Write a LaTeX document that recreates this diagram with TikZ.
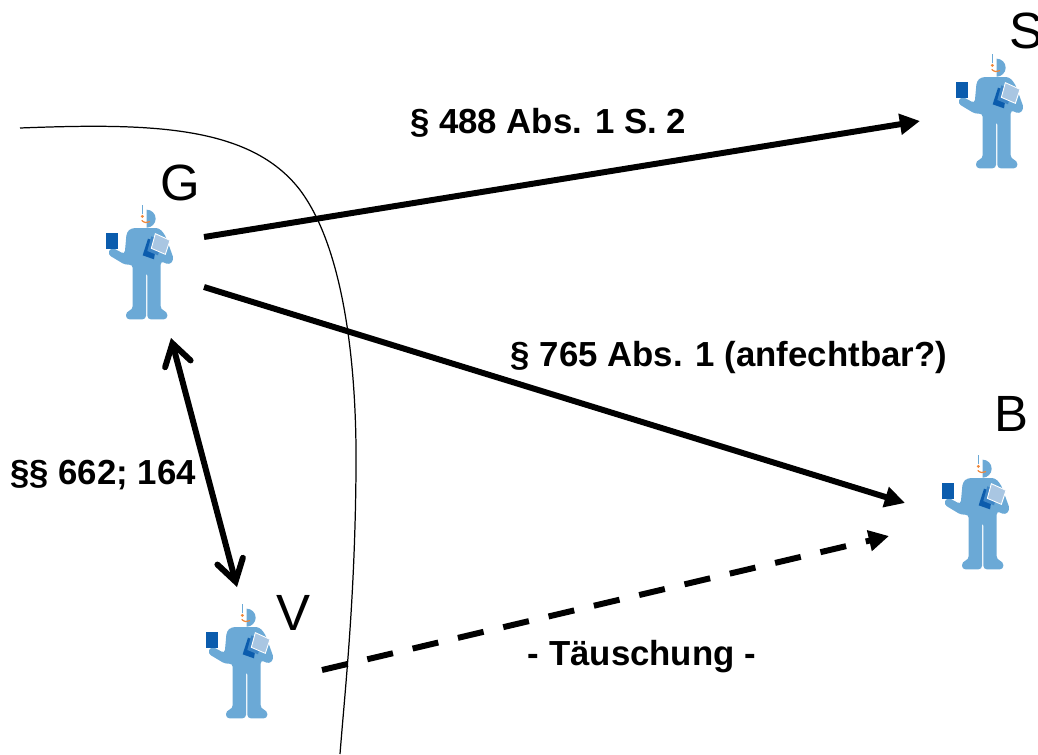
\documentclass[tikz,border=0pt]{standalone}
\usepackage{fontspec}
\setmainfont{Liberation Sans}
\usetikzlibrary{arrows.meta}

\definecolor{koerper}{HTML}{6BA9D6}
\definecolor{buch}{HTML}{0B5CAD}
\definecolor{buchmitte}{HTML}{3F86C6}
\definecolor{blatt}{HTML}{A9C6E2}
\definecolor{mikro}{HTML}{F0873A}

\tikzset{
  person/.style={minimum width=70,minimum height=115,inner sep=0pt,outer sep=0pt},
  rufname/.style={font=\fontsize{29}{31}\selectfont,inner sep=0pt},
  norm/.style={font=\fontsize{19.8}{22}\selectfont\bfseries,inner sep=0pt},
  pfeil/.style={line width=3.4pt,-{Triangle[length=11.5pt,width=11.5pt]}},
  doppel/.style={line width=3.4pt,{Straight Barb[line cap=round,line join=miter,length=12pt,width=15pt]}-{Straight Barb[line cap=round,line join=miter,length=12pt,width=15pt]}},
  figur/.pic={
    \begin{scope}[scale=1/3,shift={(-150,-215)}]
      %body
      \fill[koerper,rounded corners=2pt] (125,113) -- (208,113) -- (226,135) -- (252,208) -- (238,224) -- (212,212)
        -- (212,358) -- (232,364) -- (232,387) -- (172,387) -- (172,245) -- (168,245) -- (168,387) -- (108,387)
        -- (108,364) -- (128,358) -- (128,222) -- (106,224) -- (53,192) -- (64,170) -- (104,192) -- (110,125) -- cycle;
      %head
      \fill[koerper] (170,58) arc (-90:90:27) -- cycle;
      \draw[koerper,line width=0.8pt] (157,45) -- (157,72);
      \fill[mikro] (157,78) circle (5);
      \draw[mikro,line width=0.7pt] (155,90) .. controls (162,98) and (172,98) .. (180,94);
      %books
      \fill[buch] (49,128) rectangle (83,177);
      \fill[buch] (174,145) -- (200,155) -- (192,207) -- (158,195) -- cycle;
      \fill[buchmitte] (184,138) -- (215,150) -- (204,195) -- (172,182) -- cycle;
      \fill[blatt,draw=white,line width=0.5pt] (196,130) -- (240,150) -- (226,192) -- (184,174) -- cycle;
    \end{scope}
  }
}

\begin{document}
\begin{tikzpicture}[x=0.02cm,y=-0.02cm]

\useasboundingbox (0,0) rectangle (1038,754);
\clip (0,0) rectangle (1038,754);

%persons
\foreach \who/\px/\py in {G/140/262, S/990/111, B/976/512, V/240/661}{
  \node[person] (\who) at (\px,\py) {};
  \pic at (\who) {figur};
}

\node[rufname] (nameG) at (180,183) {G};
\node[rufname] (nameS) at (1026,31) {S};
\node[rufname] (nameB) at (1011,414) {B};
\node[rufname] (nameV) at (293,613) {V};

%border line
\draw[line width=0.7pt] (20,128) .. controls (150,123) and (250,125) .. (300,190)
  .. controls (345,250) and (357,370) .. (356,470)
  .. controls (355,600) and (345,690) .. (340,754);

%claims
\draw[pfeil] ([shift={(64,-25)}]G.center) -- ([shift={(-70,10)}]S.center);
\draw[pfeil] ([shift={(64,25)}]G.center) -- ([shift={(-71,-9)}]B.center);
\draw[doppel] ([shift={(31,76)}]G.center) -- ([shift={(-3,-74)}]V.center);
\draw[pfeil,dash pattern=on 15pt off 11.5pt] ([shift={(82,9)}]V.center) -- ([shift={(-87,24)}]B.center);

\node[norm] (t488) at (548,123) {§ 488 Abs. 1 S. 2};
\node[norm] (t765) at (729,357) {§ 765 Abs. 1 (anfechtbar?)};
\node[norm] (t662) at (103,475) {§§ 662; 164};
\node[norm] (tTaeu) at (642,657) {- Täuschung -};

\end{tikzpicture}
\end{document}
